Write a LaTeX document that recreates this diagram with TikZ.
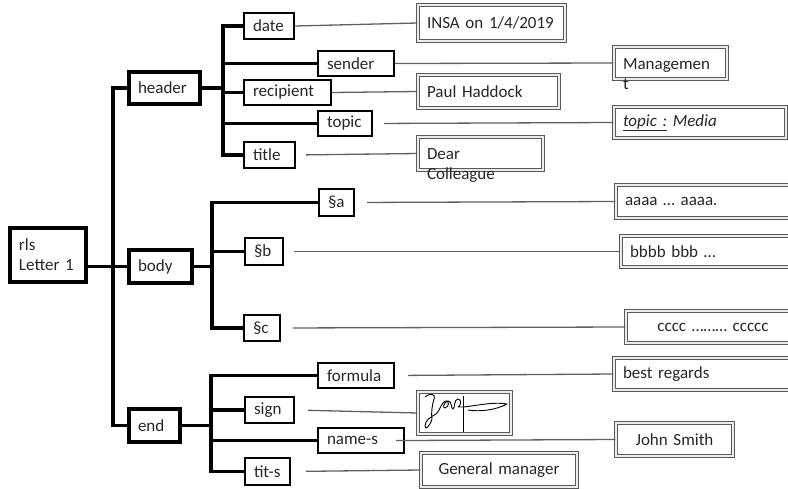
\documentclass[tikz,border=0pt]{standalone}
\usepackage{fontspec}
\setmainfont{Carlito}
\usetikzlibrary{positioning}

\begin{document}
\begin{tikzpicture}[
		x=1pt, y=-1pt,
		every node/.style={font=\fontsize{17}{20}\selectfont, text=black!85, inner xsep=9pt, inner ysep=0pt, align=left},
		rootBox/.style={draw, line width=4pt},
		treeBox/.style={draw, line width=2.4pt},
		valBox/.style={draw=gray!70!black, double=gray!15, double distance=1.2pt, line width=1.2pt},
		bus/.style={line width=3.5pt},
		link/.style={draw=gray!75!black, line width=1.3pt}
	]
	\useasboundingbox (0,0) rectangle (788,488);

	% Root and first level
	\node[rootBox, text width=58pt, minimum height=54pt] (rls) at (48,255) {rls\\Letter 1};
	\node[rootBox, text width=53pt, minimum height=32pt] (header) at (164.5,88) {header};
	\node[rootBox, text width=45pt, minimum height=33pt] (body) at (160.5,266.5) {body};
	\node[rootBox, text width=33pt, minimum height=33pt] (end) at (154.5,425.5) {end};

	% Header parts
	\node[treeBox, text width=32pt, minimum height=26pt] (date) at (269,26) {date};
	\node[treeBox, text width=58pt, minimum height=25pt] (sender) at (356,63.5) {sender};
	\node[treeBox, text width=69pt, minimum height=25pt] (recipient) at (287.5,92.5) {recipient};
	\node[treeBox, text width=36pt, minimum height=25pt] (topic) at (345,123.5) {topic};
	\node[treeBox, text width=33pt, minimum height=26pt] (title) at (269.5,155) {title};

	% Body parts
	\node[treeBox, text width=17pt, minimum height=27pt] (secA) at (336.5,202.5) {§a};
	\node[treeBox, text width=20pt, minimum height=27pt] (secB) at (264,251.5) {§b};
	\node[treeBox, text width=18pt, minimum height=26pt] (secC) at (262,328) {§c};

	% End parts
	\node[treeBox, text width=58pt, minimum height=25pt] (formula) at (356,375.5) {formula};
	\node[treeBox, text width=31pt, minimum height=26pt] (sign) at (269.5,410) {sign};
	\node[treeBox, text width=68pt, minimum height=25pt] (nameS) at (361,440.5) {name-s};
	\node[treeBox, text width=27pt, minimum height=27pt] (titS) at (267.5,471.5) {tit-s};

	% Values
	\node[valBox, text width=129pt, minimum height=36pt] (insa) at (491.5,23) {INSA on 1/4/2019};
	\node[valBox, text width=95pt, minimum height=32pt, text height=13pt, text depth=1pt] (mgmt) at (670.5,63) {Managemen\\t};
	\node[valBox, text width=123pt, minimum height=33pt] (paul) at (488.5,91.5) {Paul Haddock};
	\node[valBox, text width=154pt, minimum height=31pt] (media) at (700,122.5) {\underline{\textit{topic :}} \textit{Media}};
	\node[valBox, text width=107pt, minimum height=33pt, text height=13pt, text depth=1pt] (dear) at (480.5,153.5) {Dear\\Colleague};
	\node[valBox, text width=166pt, minimum height=33pt] (aaaa) at (708,201.5) {aaaa … aaaa.};
	\node[valBox, text width=161pt, minimum height=31pt] (bbbb) at (710.5,251.5) {bbbb bbb …};
	\node[valBox, text width=156pt, minimum height=32pt, align=center] (cccc) at (713,327) {cccc ……… ccccc};
	\node[valBox, text width=168pt, minimum height=32pt] (best) at (707,374) {best regards};
	\node[valBox, minimum width=93pt, minimum height=42pt] (sig) at (464.5,413) {};
	\node[valBox, text width=99pt, minimum height=33pt, align=center] (john) at (674.5,439.5) {John Smith};
	\node[valBox, text width=138pt, minimum height=34pt, align=center] (gm) at (499,470) {General manager};

	% Signature
	\draw[line width=0.9pt, line join=round] (425,397) .. controls (429,393) and (436,393) .. (434,399)
		.. controls (432,406) and (431,413) .. (432,419) .. controls (430,426) and (425,431) .. (425,426)
		.. controls (425,420) and (431,417) .. (436,414) .. controls (440,411) and (441,403) .. (445,401)
		.. controls (449,399) and (450,407) .. (445,408) .. controls (442,408) and (444,402) .. (448,401)
		.. controls (452,400) and (451,410) .. (453,409) .. controls (455,408) and (454,399) .. (458,399)
		.. controls (462,399) and (461,406) .. (458,407) .. controls (468,408) and (490,401) .. (507,404)
		.. controls (496,410) and (480,412) .. (468,410);
	\draw[line width=0.9pt] (463,396) -- (463,432);

	% Buses
	\coordinate (rootBus) at (113,0);
	\coordinate (headerBus) at (223,0);
	\coordinate (bodyBus) at (212,0);
	\coordinate (endBus) at (211,0);

	\draw[bus] (rls.east |- body.west) -- (body.west);
	\draw[bus] (header.west) -| (rootBus |- end.west) -- (end.west);

	\draw[bus] (header.east) -- (headerBus |- header.east);
	\draw[bus] (date.west) -| (headerBus |- title.west) -- (title.west);
	\foreach \n in {sender, recipient, topic}
		\draw[bus] (headerBus |- \n.west) -- (\n.west);

	\draw[bus] (body.east) -- (bodyBus |- body.east);
	\draw[bus] (secA.west) -| (bodyBus |- secC.west) -- (secC.west);
	\draw[bus] (bodyBus |- secB.west) -- (secB.west);

	\draw[bus] (end.east) -- (endBus |- end.east);
	\draw[bus] (formula.west) -| (endBus |- titS.west) -- (titS.west);
	\foreach \n in {sign, nameS}
		\draw[bus] (endBus |- \n.west) -- (\n.west);

	% Links to values
	\draw[link] (date.east) -- (insa.west);
	\draw[link] (sender.east) -- (mgmt.west);
	\draw[link] (recipient.east) -- (paul.west);
	\draw[link, shorten <=11pt] (topic.east) -- (media.west);
	\draw[link, shorten <=10pt] (title.east) -- (dear.west);
	\draw[link, shorten <=12pt] (secA.east) -- (aaaa.west);
	\draw[link, shorten <=10pt] (secB.east) -- (bbbb.west);
	\draw[link, shorten <=12pt] (secC.east) -- (cccc.west);
	\draw[link, shorten <=13pt] (formula.east) -- (best.west);
	\draw[link, shorten <=13pt] (sign.east) -- (sig.west);
	\draw[link, shorten <=-9pt] (nameS.east) -- (john.west);
	\draw[link, shorten <=15pt] (titS.east) -- (gm.west);
\end{tikzpicture}
\end{document}
